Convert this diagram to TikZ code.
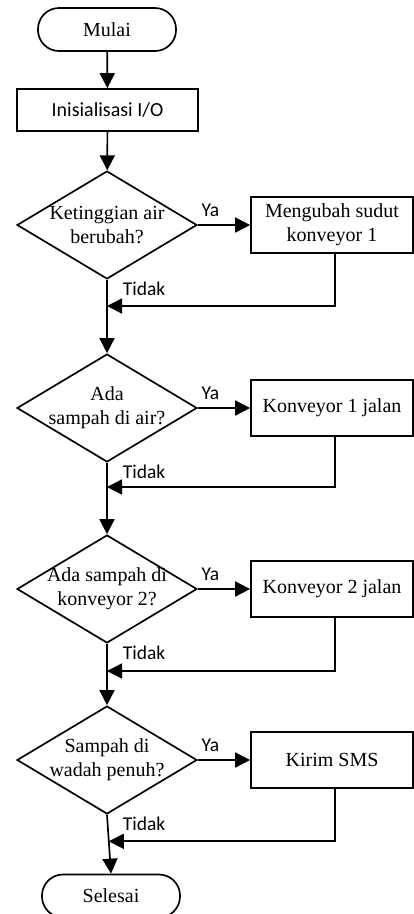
\documentclass[tikz,border=0pt]{standalone}
\usepackage{fontspec}
\setmainfont{Liberation Serif}
\newfontfamily\calibri{Carlito}
\usetikzlibrary{arrows.meta}
\usetikzlibrary{shapes}
\usetikzlibrary{calc}
\usetikzlibrary{positioning}
\tikzstyle{terminal}=[rectangle, rounded corners=21pt, draw=black, line width=1.7pt, minimum width=138pt, minimum height=43pt, inner sep=0pt, font=\fontsize{20}{24}\selectfont]
\tikzstyle{process}=[rectangle, draw=black, line width=1.7pt, minimum width=162pt, minimum height=56pt, inner sep=0pt, align=center, font=\fontsize{20}{24}\selectfont]
\tikzstyle{decision}=[diamond, draw=black, line width=1.7pt, minimum width=180pt, minimum height=108pt, inner sep=0pt]
\tikzstyle{question}=[align=center, font=\fontsize{20}{24}\selectfont]
\tikzstyle{tran}=[draw, line width=1.7pt, -{Triangle[length=15pt,width=15pt]}]
\tikzstyle{answer}=[font=\calibri\fontsize{19.5}{23}\selectfont, inner sep=1pt]

\begin{document}
\begin{tikzpicture}[x=1pt, y=-1pt]
\useasboundingbox (0,0) rectangle (414,914);

\node[terminal] (mulai)   at (107,29.5) {Mulai};
\node[process, minimum width=181pt, minimum height=42pt, font=\calibri\fontsize{20}{24}\selectfont] (init) at (107.5,110) {Inisialisasi I/O};

\node[decision, label={[question]center:Ketinggian air\\berubah?}] (d1) at (107,225) {};
\node[process] (b1) at (332,225) {Mengubah sudut\\konveyor 1};

\node[decision, label={[question]center:Ada\\sampah di air?}] (d2) at (107,408) {};
\node[process] (b2) at (332,408) {Konveyor 1 jalan};

\node[decision, label={[question]center:Ada sampah di\\konveyor 2?}] (d3) at (107,589) {};
\node[process] (b3) at (332,589) {Konveyor 2 jalan};

\node[decision, label={[question]center:Sampah di\\wadah penuh?}] (d4) at (107,760) {};
\node[process] (b4) at (332,760) {Kirim SMS};

\node[terminal] (selesai) at (111,896) {Selesai};

% titik temu jalur kembali
\coordinate (j1) at (107,306);
\coordinate (j2) at (107,487);
\coordinate (j3) at (107,671);
\coordinate (j4) at ($(d4.south)!0.45!(selesai.north)$);

\draw[tran] (mulai) -- (init);
\draw[tran] (init) -- (d1);

\draw[tran] (d1.east) -- node[answer, pos=0, anchor=south west, xshift=2pt, yshift=7pt] {Ya} (b1.west);
\draw[tran] (d1.south) -- node[answer, pos=0, anchor=north west, xshift=14pt] {Tidak} (d2.north);
\draw[tran] ([xshift=3pt]b1.south) |- (j1);

\draw[tran] (d2.east) -- node[answer, pos=0, anchor=south west, xshift=2pt, yshift=7pt] {Ya} (b2.west);
\draw[tran] (d2.south) -- node[answer, pos=0, anchor=north west, xshift=14pt] {Tidak} (d3.north);
\draw[tran] ([xshift=3pt]b2.south) |- (j2);

\draw[tran] (d3.east) -- node[answer, pos=0, anchor=south west, xshift=2pt, yshift=7pt] {Ya} (b3.west);
\draw[tran] (d3.south) -- node[answer, pos=0, anchor=north west, xshift=14pt] {Tidak} (d4.north);
\draw[tran] ([xshift=3pt]b3.south) |- (j3);

\draw[tran] (d4.east) -- node[answer, pos=0, anchor=south west, xshift=2pt, yshift=7pt] {Ya} (b4.west);
\draw[tran] (d4.south) -- node[answer, pos=0, anchor=north west, xshift=14pt] {Tidak} (selesai.north);
\draw[tran] ([xshift=3pt]b4.south) |- (j4);

\end{tikzpicture}
\end{document}
